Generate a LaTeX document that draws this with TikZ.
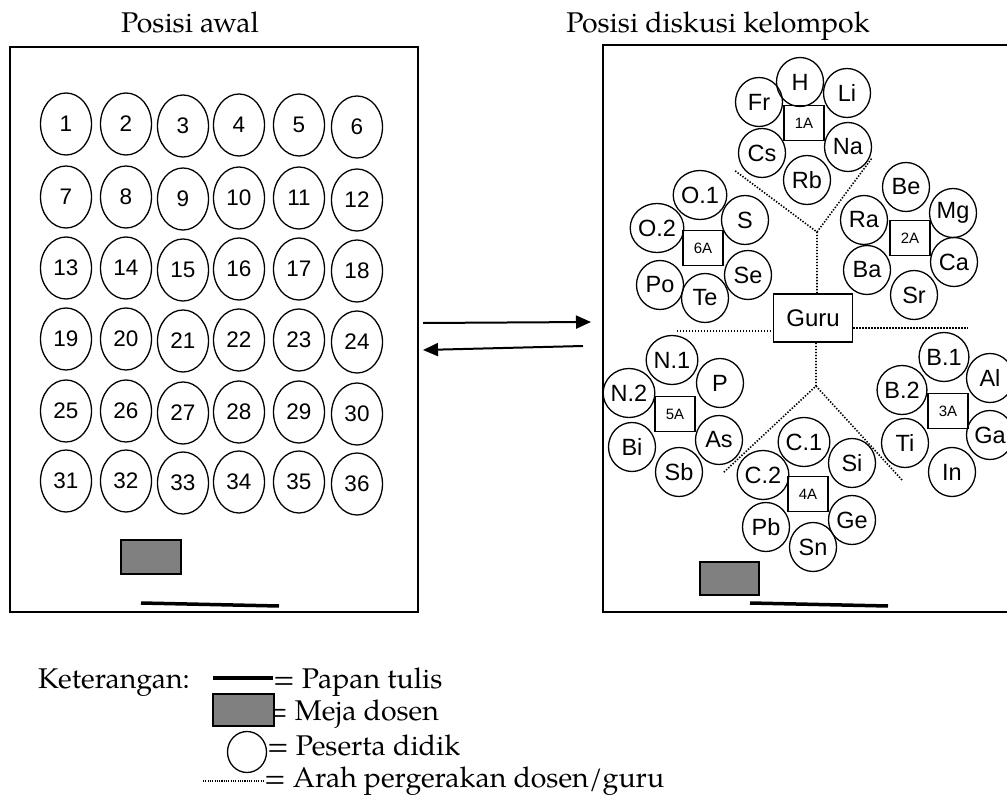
\documentclass[tikz,border=0pt]{standalone}
\usepackage{fontspec}
\setmainfont{TeX Gyre Pagella}
\newfontfamily\arialfont{Liberation Sans}
\usetikzlibrary{shapes.geometric,arrows.meta}

\begin{document}
\begin{tikzpicture}[x=1pt,y=-1pt,
  frame/.style={line width=2pt,line cap=rect},
  seatL/.style={ellipse,draw,line width=1.3pt,minimum width=51pt,minimum height=62pt,
    inner sep=0pt,font=\arialfont\fontsize{22.5}{22.5}\selectfont},
  seatR/.style={ellipse,draw,line width=1.3pt,minimum width=47pt,minimum height=49pt,
    inner sep=0pt,font=\arialfont\fontsize{23.5}{23.5}\selectfont},
  grp/.style={rectangle,draw,line width=1.5pt,minimum width=40pt,minimum height=35pt,
    inner sep=0pt,font=\arialfont\fontsize{15}{15}\selectfont},
  gurubox/.style={rectangle,draw,line width=1.5pt,minimum width=79pt,minimum height=48pt,
    inner sep=0pt,font=\arialfont\fontsize{24}{24}\selectfont},
  desk/.style={rectangle,draw,line width=1.5pt,fill=deskgray,inner sep=0pt},
  board/.style={line width=3.5pt},
  walk/.style={line width=1.6pt,dash pattern=on 1.4pt off 1.6pt},
  move/.style={line width=2pt,-{Triangle[length=15pt,width=13pt]}},
  serif/.style={font=\fontsize{28.5}{30}\selectfont,inner sep=0pt},
]
\definecolor{deskgray}{HTML}{808080}
\useasboundingbox (0,0) rectangle (1007,805);
\clip (0,0) rectangle (1007,805);

% ---------- titles ----------
\node[serif,anchor=base] (titleA) at (190,33) {Posisi awal};
\node[serif,anchor=base] (titleB) at (718,33) {Posisi diskusi kelompok};

% ---------- initial seating ----------
\draw[frame] (10,47) rectangle (418,612);
\foreach \c/\x/\dy in {1/66/0,2/126/0,3/183/2,4/239/1,5/299/1,6/357/3}{
  \foreach \r/\y in {0/124,1/197,2/268,3/339,4/411,5/481}{
    \pgfmathtruncatemacro\n{6*\r+\c}
    \node[seatL] (s\n) at (\x,\y+\dy) {\n};
  }
}
\node[desk,minimum width=60pt,minimum height=34pt] (deskA) at (151,557) {};
\draw[board] (141,603) -- (279,606);

% ---------- arrows between the two layouts ----------
\coordinate (fwdS) at (423,323);
\coordinate (fwdE) at (591,322);
\coordinate (bckS) at (583,346);
\coordinate (bckE) at (423,350);
\draw[move] (fwdS) -- (fwdE);
\draw[move] (bckS) -- (bckE);

% ---------- group discussion layout ----------
\draw[frame] (1010,45) -- (603,45) -- (603,612) -- (1010,612);

\node[gurubox] (guru) at (813,318) {Guru};

% group 1A
\node[grp] (g1) at (804,123) {1A};
\foreach \name/\x/\y in {H/800/82,Fr/759/102,Li/847/93,Cs/762/153,Na/848/147,Rb/807/180}
  \node[seatR] (\name) at (\x,\y) {\name};
% group 2A
\node[grp] (g2) at (910,238) {2A};
\foreach \name/\x/\y in {Be/906/187,Mg/953/213,Ra/864/220,Ca/954/262,Ba/867/270,Sr/914/295}
  \node[seatR] (\name) at (\x,\y) {\name};
% group 6A
\node[grp] (g6) at (703,248) {6A};
\node[seatR] (O1) at (700,195) {O.1};
\node[seatR] (O2) at (657,228) {O.2};
\foreach \name/\x/\y in {S/745/220,Se/748/275,Po/660/285,Te/705/298}
  \node[seatR] (\name) at (\x,\y) {\name};
% group 5A
\node[grp] (g5) at (675,414) {5A};
\node[seatR] (N1) at (672,360) {N.1};
\node[seatR] (N2) at (629,393) {N.2};
\foreach \name/\x/\y in {P/720/383,As/719/440,Bi/632/447,Sb/679/472}
  \node[seatR] (\name) at (\x,\y) {\name};
% group 4A
\node[grp] (g4) at (808,494) {4A};
\node[seatR] (C1) at (804,442) {C.1};
\node[seatR] (C2) at (763,475) {C.2};
\foreach \name/\x/\y in {Si/852/463,Ge/852/520,Pb/766/527,Sn/813/547}
  \node[seatR] (\name) at (\x,\y) {\name};
% group 3A
\node[grp] (g3) at (948,411) {3A};
\node[seatR] (B1) at (944,357) {B.1};
\node[seatR] (B2) at (902,390) {B.2};
\foreach \name/\x/\y in {Al/990/378,Ga/990/435,Ti/905/443,In/952/472}
  \node[seatR] (\name) at (\x,\y) {\name};

% lecturer walking paths
\coordinate (up) at (817,232);
\coordinate (upL) at (734,170);
\coordinate (upR) at (872,158);
\coordinate (dn) at (816,386);
\coordinate (dnL) at (723,473);
\coordinate (dnR) at (902,480);
\coordinate (sideL) at (677,331);
\coordinate (sideR) at (968,328);
\draw[walk] (guru.north -| up) -- (up) -- (upL);
\draw[walk] (up) -- (upR);
\draw[walk] (guru.south -| dn) -- (dn) -- (dnL);
\draw[walk] (dn) -- (dnR);
\draw[walk] (sideL) -- (sideL -| guru.west);
\draw[walk] (guru.east |- sideR) -- (sideR);

\node[desk,minimum width=59pt,minimum height=33pt] (deskB) at (729.5,578.5) {};
\draw[board] (750,603) -- (888,606);

% ---------- legend ----------
\node[serif,anchor=base east] (ket) at (190,688) {Keterangan:};
\draw[board] (213,678) -- (273,678);
\node[serif,anchor=base west] (lgBoard) at (273,688) {= Papan tulis};
\node[serif,anchor=base west] (lgDesk) at (266,720) {= Meja dosen};
\node[desk,minimum width=61pt,minimum height=32pt] (lgDeskBox) at (243.5,710) {};
\node[serif,anchor=base west] (lgSeat) at (267,755) {= Peserta didik};
\node[ellipse,draw,line width=1.3pt,minimum width=39pt,minimum height=41pt,inner sep=0pt] (lgSeatShape) at (247,752) {};
\draw[walk,line width=1.2pt,dash pattern=on 1.1pt off 1.2pt] (203,781) -- (264,781);
\node[serif,anchor=base west] (lgWalk) at (264,787) {= Arah pergerakan dosen/guru};
\end{tikzpicture}
\end{document}
